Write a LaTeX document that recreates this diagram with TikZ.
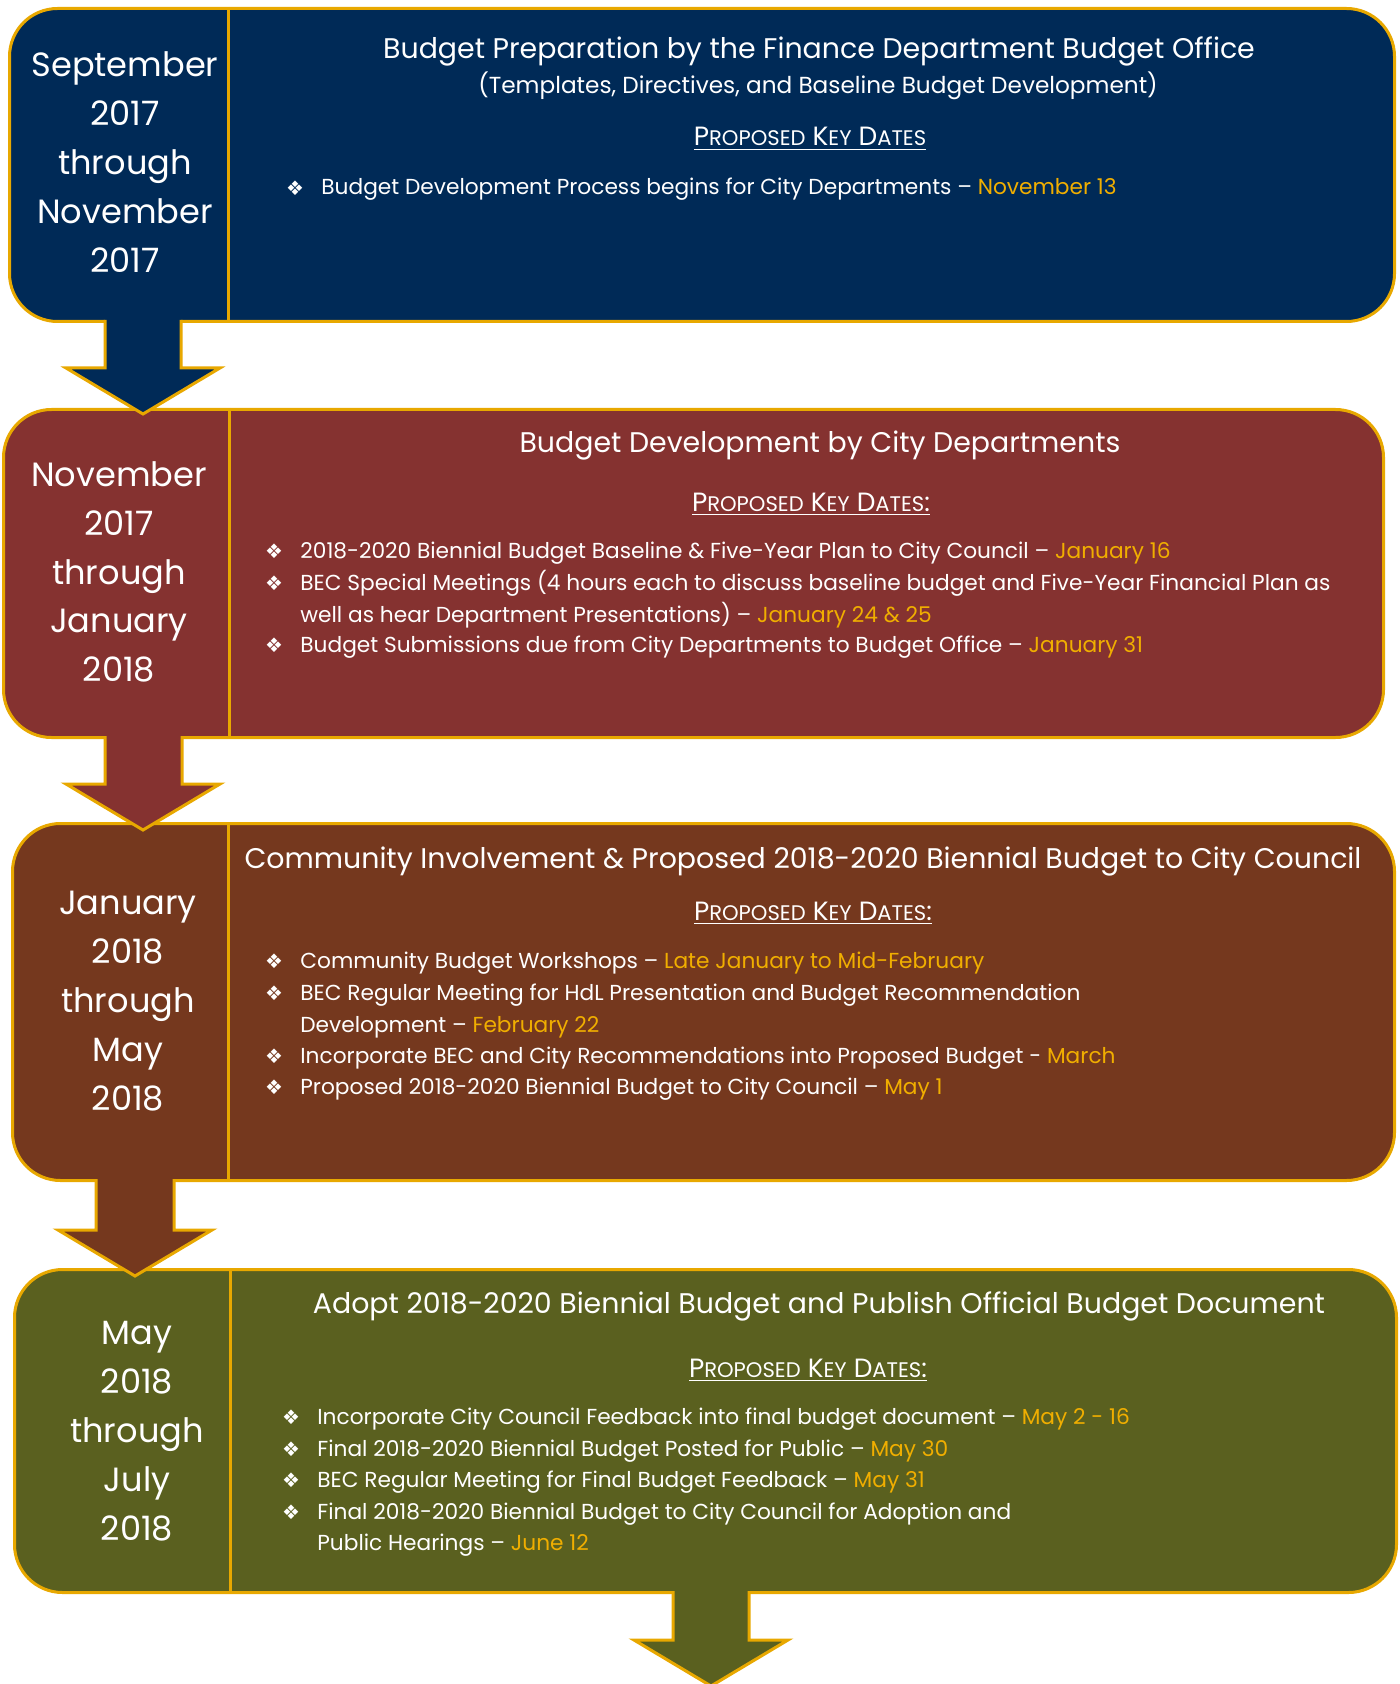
\documentclass[tikz,border=0pt]{standalone}
\usepackage{fontspec}
\setmainfont{Poppins}
\newfontfamily\symfont{DejaVu Sans}
\definecolor{navy}{HTML}{002A57}
\definecolor{maroon}{HTML}{853230}
\definecolor{rust}{HTML}{75381E}
\definecolor{olive}{HTML}{5A601F}
\definecolor{gold}{HTML}{E8A800}
\definecolor{dategold}{HTML}{F0AE00}
\newcommand\dt[1]{\textcolor{dategold}{#1}}
\newcommand\pkd[1][:]{\underline{P\scalebox{0.8}{ROPOSED} K\scalebox{0.8}{EY} D\scalebox{0.8}{ATES}#1}}
\tikzset{
  box/.style={draw=gold, line width=1.5pt, rounded corners=24pt, anchor=north west, inner sep=0pt},
  divline/.style={draw=gold, line width=1.5pt},
  lefttxt/.style={anchor=base, inner sep=0pt, text=white, font=\fontsize{16.8}{20}\selectfont},
  ttl/.style={anchor=base, inner sep=0pt, text=white, font=\fontsize{14.2}{17}\selectfont},
  subttl/.style={anchor=base, inner sep=0pt, text=white, font=\fontsize{11.6}{14}\selectfont},
  pkdtxt/.style={anchor=base, inner sep=0pt, text=white, font=\fontsize{13.2}{15}\selectfont},
  itm/.style={anchor=base west, inner sep=0pt, text=white, font=\fontsize{10.85}{13}\selectfont},
  bul/.style={anchor=center, inner sep=0pt, text=white, font=\symfont\fontsize{10}{12}\selectfont},
  arrowline/.style={draw=gold, line width=1.5pt, line join=miter},
}
\begin{document}
\begin{tikzpicture}[x=0.5pt,y=-0.5pt]
\useasboundingbox (0,0) rectangle (1400,1684);
% boxes
\node[box, fill=navy, minimum width=692.5pt, minimum height=156.5pt] (b1) at (8,7) {};
\node[box, fill=maroon, minimum width=690pt, minimum height=164pt] (b2) at (2,408) {};
\node[box, fill=rust, minimum width=691pt, minimum height=178.5pt] (b3) at (11,822) {};
\node[box, fill=olive, minimum width=691pt, minimum height=161.5pt] (b4) at (13,1268) {};
% dividers
\draw[divline] (228,7) -- (228,320);
\draw[divline] (229,408) -- (229,736);
\draw[divline] (228,822) -- (228,1179);
\draw[divline] (230,1268) -- (230,1591);
% arrows
\fill[navy] (105,318) -- (105,368) -- (66,368) -- (143,414) -- (220,368) -- (181,368) -- (181,318) -- cycle;
\draw[arrowline] (105,320) -- (105,368) -- (66,368) -- (143,414) -- (220,368) -- (181,368) -- (181,320);
\fill[maroon] (105,734) -- (105,784) -- (66,784) -- (143,830) -- (220,784) -- (182,784) -- (182,734) -- cycle;
\draw[arrowline] (105,736) -- (105,784) -- (66,784) -- (143,830) -- (220,784) -- (182,784) -- (182,736);
\fill[rust] (96,1177) -- (96,1230) -- (58,1230) -- (135,1276) -- (212,1230) -- (174,1230) -- (174,1177) -- cycle;
\draw[arrowline] (96,1179) -- (96,1230) -- (58,1230) -- (135,1276) -- (212,1230) -- (174,1230) -- (174,1179);
\fill[olive] (673,1589) -- (673,1640) -- (634,1640) -- (711,1686) -- (788,1640) -- (749,1640) -- (749,1589) -- cycle;
\draw[arrowline] (673,1591) -- (673,1640) -- (634,1640) -- (711,1686) -- (788,1640) -- (749,1640) -- (749,1591);
% left column texts
\foreach \t [count=\i from 0] in {September,2017,through,November,2017}
  \node[lefttxt] (la\i) at (125,77+49*\i) {\t};
\foreach \t [count=\i from 0] in {November,2017,through,January,2018}
  \node[lefttxt] (lb\i) at (119,487+48.5*\i) {\t};
\foreach \t [count=\i from 0] in {January,2018,through,May,2018}
  \node[lefttxt] (lc\i) at (128,914+49*\i) {\t};
\foreach \t [count=\i from 0] in {May,2018,through,July,2018}
  \node[lefttxt] (ld\i) at (137,1344+49*\i) {\t};
% box 1
\node[ttl] (t1) at (819,59) {Budget Preparation by the Finance Department Budget Office};
\node[subttl] (s1) at (818,94) {(Templates, Directives, and Baseline Budget Development)};
\node[pkdtxt] (p1) at (810,146) {\pkd[]};
\node[bul] (u11) at (295,188) {❖};
\node[itm] (i11) at (321,195) {Budget Development Process begins for City Departments – \dt{November 13}};
% box 2
\node[ttl] (t2) at (820,452) {Budget Development by City Departments};
\node[pkdtxt] (p2) at (811,511) {\pkd};
\node[bul] (u21) at (274,551) {❖};
\node[itm] (i21) at (300,558) {2018-2020 Biennial Budget Baseline \& Five-Year Plan to City Council – \dt{January 16}};
\node[bul] (u22) at (274,583) {❖};
\node[itm] (i22) at (300,590) {BEC Special Meetings (4 hours each to discuss baseline budget and Five-Year Financial Plan as};
\node[itm] (i23) at (300,622) {well as hear Department Presentations) – \dt{January 24 \& 25}};
\node[bul] (u24) at (274,645) {❖};
\node[itm] (i24) at (300,652) {Budget Submissions due from City Departments to Budget Office – \dt{January 31}};
% box 3
\node[ttl] (t3) at (803,868) {Community Involvement \& Proposed 2018-2020 Biennial Budget to City Council};
\node[pkdtxt] (p3) at (813,920) {\pkd};
\node[bul] (u31) at (274,961) {❖};
\node[itm] (i31) at (300,968) {Community Budget Workshops – \dt{Late January to Mid-February}};
\node[bul] (u32) at (274,993) {❖};
\node[itm] (i32) at (300,1000) {BEC Regular Meeting for HdL Presentation and Budget Recommendation};
\node[itm] (i33) at (300,1032) {Development – \dt{February 22}};
\node[bul] (u34) at (274,1056) {❖};
\node[itm] (i34) at (300,1063) {Incorporate BEC and City Recommendations into Proposed Budget - \dt{March}};
\node[bul] (u35) at (274,1087) {❖};
\node[itm] (i35) at (300,1094) {Proposed 2018-2020 Biennial Budget to City Council – \dt{May 1}};
% box 4
\node[ttl] (t4) at (819,1313) {Adopt 2018-2020 Biennial Budget and Publish Official Budget Document};
\node[pkdtxt] (p4) at (808,1377) {\pkd};
\node[bul] (u41) at (291,1417) {❖};
\node[itm] (i41) at (317,1424) {Incorporate City Council Feedback into final budget document – \dt{May 2 - 16}};
\node[bul] (u42) at (291,1449) {❖};
\node[itm] (i42) at (317,1456) {Final 2018-2020 Biennial Budget Posted for Public – \dt{May 30}};
\node[bul] (u43) at (291,1480) {❖};
\node[itm] (i43) at (317,1487) {BEC Regular Meeting for Final Budget Feedback – \dt{May 31}};
\node[bul] (u44) at (291,1512) {❖};
\node[itm] (i44) at (317,1519) {Final 2018-2020 Biennial Budget to City Council for Adoption and};
\node[itm] (i45) at (317,1550) {Public Hearings – \dt{June 12}};
\end{tikzpicture}
\end{document}
